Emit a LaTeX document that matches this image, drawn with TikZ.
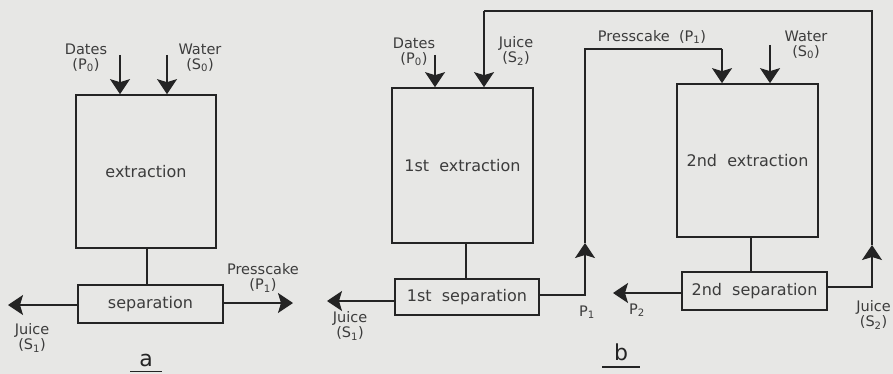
\documentclass[tikz,border=0pt]{standalone}
\usepackage{fontspec}
\setmainfont{DejaVu Sans}
\usetikzlibrary{arrows.meta}
\definecolor{bg}{RGB}{231,231,229}
\definecolor{ink}{RGB}{36,36,36}
\definecolor{txt}{RGB}{60,60,60}
\newcommand{\sbs}[1]{\textsubscript{#1}}
\tikzset{
  proc/.style={draw=ink, line width=1.7pt, inner sep=0pt, text=txt,
    font=\fontsize{16}{18}\selectfont},
  lbl/.style={inner sep=0pt, align=center, text=txt,
    font=\fontsize{14.5}{15}\selectfont},
  tag/.style={inner sep=0pt, text=ink, font=\fontsize{22}{24}\selectfont},
  conn/.style={draw=ink, line width=1.7pt},
  flow/.style={conn, -{Stealth[length=15pt,width=20pt,inset=3pt]}},
}
\begin{document}
\begin{tikzpicture}[x=1pt,y=-1pt]
\fill[bg] (0,0) rectangle (893,374);
\useasboundingbox (0,0) rectangle (893,374);

% ---------------- diagram a ----------------
\node[proc, minimum width=140pt, minimum height=153pt] (exta) at (146,171.5) {extraction};
\node[proc, minimum width=145pt, minimum height=38pt] (sepa) at (150.5,304) {separation};
\coordinate (ca) at (147,0);
\draw[conn] (exta.south -| ca) -- (sepa.north -| ca);

\coordinate (dinA) at (120,55);
\coordinate (winA) at (167,55);
\node[lbl] (datesA) at (86,58) {Dates\\(P\sbs{0})};
\node[lbl] (waterA) at (200,58) {Water\\(S\sbs{0})};
\draw[flow] (dinA) -- (dinA |- exta.north);
\draw[flow] (winA) -- (winA |- exta.north);

\coordinate (jA) at (8,305);
\coordinate (pA) at (293,303);
\draw[flow] (sepa.west |- jA) -- (jA);
\draw[flow] (sepa.east |- pA) -- (pA);
\node[lbl] (juiceA) at (32,338) {Juice\\(S\sbs{1})};
\node[lbl] (pressA) at (263,278) {Presscake\\(P\sbs{1})};

\node[tag] (tagA) at (146,360) {a};
\draw[ink, line width=0.8pt] (130,371) -- (162,371);

% ---------------- diagram b ----------------
\node[proc, minimum width=141pt, minimum height=155pt] (ext1) at (462.5,165.5) {1st\ \ extraction};
\node[proc, minimum width=144pt, minimum height=36pt] (sep1) at (467,297) {1st\ \ separation};
\node[proc, minimum width=141pt, minimum height=153pt] (ext2) at (747.5,160.5) {2nd\ \ extraction};
\node[proc, minimum width=145pt, minimum height=38pt] (sep2) at (754.5,291) {2nd\ \ separation};

\coordinate (c1) at (466,0);
\coordinate (c2) at (751,0);
\draw[conn] (ext1.south -| c1) -- (sep1.north -| c1);
\draw[conn] (ext2.south -| c2) -- (sep2.north -| c2);

% feeds of 1st extraction
\coordinate (dinB) at (435,55);
\draw[flow] (dinB) -- (dinB |- ext1.north);
\node[lbl] (datesB) at (414,52) {Dates\\(P\sbs{0})};

% juice S2 recycle
\coordinate (s2a) at (872,287);
\coordinate (s2tip) at (872,245);
\coordinate (s2top) at (872,11);
\coordinate (s2in) at (484,11);
\draw[flow] (sep2.east |- s2a) -- (s2a) -- (s2tip);
\draw[conn] (s2tip) -- (s2top) -- (s2in);
\draw[flow] (s2in) -- (s2in |- ext1.north);
\node[lbl] (juiceS2in) at (516,51) {Juice\\(S\sbs{2})};
\node[lbl, anchor=east] (juiceS2out) at (891,315) {Juice\\(S\sbs{2})};

% juice S1 out
\coordinate (jB) at (327,301);
\draw[flow] (sep1.west |- jB) -- (jB);
\node[lbl] (juiceB) at (350,326) {Juice\\(S\sbs{1})};

% presscake P1 route
\coordinate (p1a) at (585,295);
\coordinate (p1tip) at (585,243);
\coordinate (p1top) at (585,49);
\coordinate (p1in) at (722,49);
\draw[flow] (sep1.east |- p1a) -- (p1a) -- (p1tip);
\draw[conn] (p1tip) -- (p1top) -- (p1in);
\draw[flow] (p1in) -- (p1in |- ext2.north);
\node[lbl] (pressB) at (652,37) {Presscake\ \ (P\sbs{1})};
\node[lbl] (p1lbl) at (587,312) {P\sbs{1}};

% water into 2nd extraction
\coordinate (winB) at (770,45);
\draw[flow] (winB) -- (winB |- ext2.north);
\node[lbl] (waterB) at (806,45) {Water\\(S\sbs{0})};

% P2 out
\coordinate (p2) at (613,293);
\draw[flow] (sep2.west |- p2) -- (p2);
\node[lbl] (p2lbl) at (637,310) {P\sbs{2}};

\node[tag] (tagB) at (621,352) {b};
\draw[ink, line width=1.4pt] (602,367) -- (640,367);
\end{tikzpicture}
\end{document}
